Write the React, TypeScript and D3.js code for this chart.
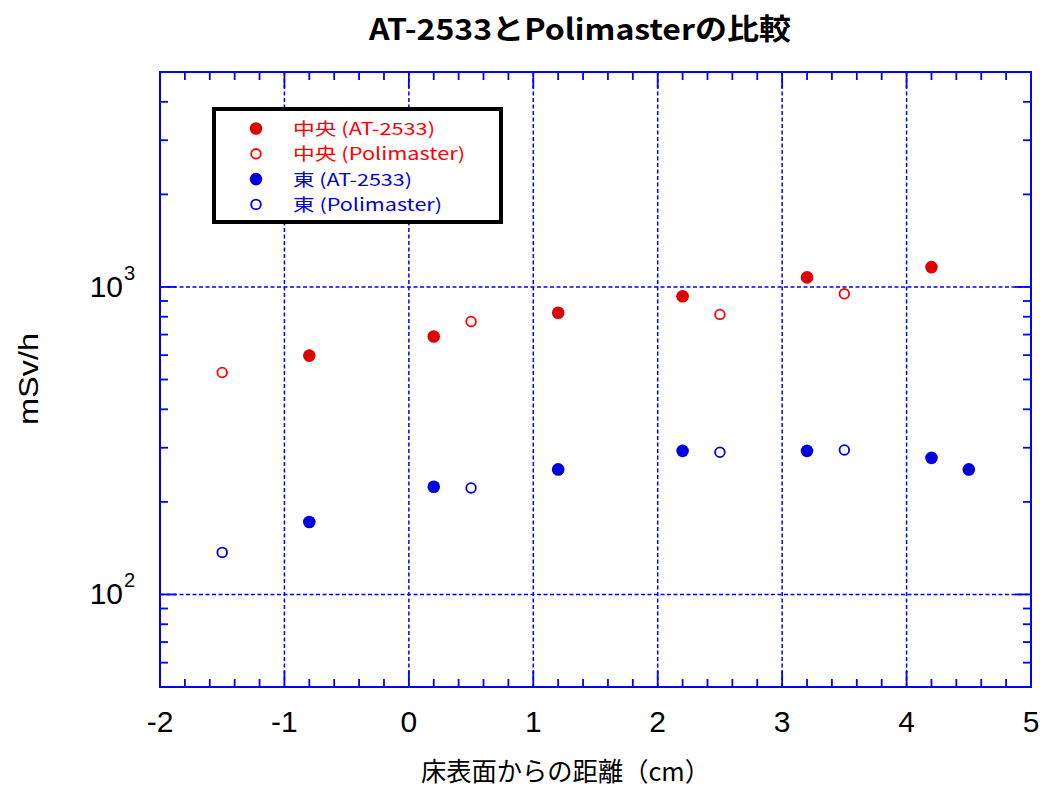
import React from "react";
import * as d3 from "d3";

const xCenterAT = [-0.8, 0.2, 1.2, 2.2, 3.2, 4.2];
const centerAT = [598, 690, 824, 933, 1074, 1160];
const xCenterPoli = [-1.5, 0.5, 2.5, 3.5];
const centerPoli = [527, 772, 814, 950];
const xEastAT = [-0.8, 0.2, 1.2, 2.2, 3.2, 4.2, 4.5];
const eastAT = [172, 224, 255, 293, 293, 278, 255];
const xEastPoli = [-1.5, 0.5, 2.5, 3.5];
const eastPoli = [137, 222, 290, 295];

const xTicks = [-2, -1, 0, 1, 2, 3, 4, 5];
const yMajor = [100, 1000];
const yMajorExp = ["2", "3"];
const legendLabels = ["中央 (AT-2533)", "中央 (Polimaster)", "東 (AT-2533)", "東 (Polimaster)"];
const legendWidths = [142, 172, 119, 149];

const title = "AT-2533とPolimasterの比較";
const xLabel = "床表面からの距離（cm）";
const yLabel = "mSv/h";

const L = 160, R = 1031, T = 72, B = 687;
const AX = "#0000ff";
const RED = "#e00000";
const RED2 = "#ff0000";
const BLUE = "#0000dd";
const JP = "'Noto Sans CJK JP', sans-serif";
const LAT = "'Liberation Sans', Arial, sans-serif";

export default function App() {
  const x = d3.scaleLinear().domain([-2, 5]).range([L, R]);
  const y = d3.scaleLog().domain([50, 5000]).range([B, T]);

  const xMinor: number[] = [];
  for (let i = -20; i <= 50; i += 2) {
    if (i % 10 !== 0) xMinor.push(i / 10);
  }
  const yMinor: number[] = [];
  [10, 100, 1000].forEach((d) => {
    for (let k = 2; k <= 9; k++) {
      const v = d * k;
      if (v >= 50 && v <= 5000) yMinor.push(v);
    }
  });

  const series = [
    { xs: xCenterAT, ys: centerAT, color: RED, text: RED2, filled: true },
    { xs: xCenterPoli, ys: centerPoli, color: RED2, text: RED2, filled: false },
    { xs: xEastAT, ys: eastAT, color: BLUE, text: BLUE, filled: true },
    { xs: xEastPoli, ys: eastPoli, color: BLUE, text: BLUE, filled: false },
  ];

  const minorLen = 8;
  const majorLen = 16;

  return (
    <svg width={1043} height={789} style={{ position: "absolute", left: 0, top: 0, background: "#fff" }}>
      <rect x={0} y={0} width={1043} height={789} fill="#fff" />
      {/* grid */}
      {xTicks.slice(1, -1).map((t) => (
        <line key={"gx" + t} x1={x(t)} x2={x(t)} y1={T} y2={B} stroke={AX} strokeWidth={1.5} strokeDasharray="4,2.5" />
      ))}
      {yMajor.map((t) => (
        <line key={"gy" + t} x1={L} x2={R} y1={y(t)} y2={y(t)} stroke={AX} strokeWidth={1.5} strokeDasharray="4,2.5" />
      ))}
      {/* ticks */}
      {xMinor.map((t) => (
        <g key={"mx" + t}>
          <line x1={x(t)} x2={x(t)} y1={B} y2={B - minorLen} stroke={AX} strokeWidth={1.8} />
          <line x1={x(t)} x2={x(t)} y1={T} y2={T + minorLen} stroke={AX} strokeWidth={1.8} />
        </g>
      ))}
      {xTicks.map((t) => (
        <g key={"Mx" + t}>
          <line x1={x(t)} x2={x(t)} y1={B} y2={B - majorLen} stroke={AX} strokeWidth={1.8} />
          <line x1={x(t)} x2={x(t)} y1={T} y2={T + majorLen} stroke={AX} strokeWidth={1.8} />
        </g>
      ))}
      {yMinor.map((t) => (
        <g key={"my" + t}>
          <line x1={L} x2={L + minorLen} y1={y(t)} y2={y(t)} stroke={AX} strokeWidth={1.8} />
          <line x1={R} x2={R - minorLen} y1={y(t)} y2={y(t)} stroke={AX} strokeWidth={1.8} />
        </g>
      ))}
      {yMajor.map((t) => (
        <g key={"My" + t}>
          <line x1={L} x2={L + majorLen} y1={y(t)} y2={y(t)} stroke={AX} strokeWidth={1.8} />
          <line x1={R} x2={R - majorLen} y1={y(t)} y2={y(t)} stroke={AX} strokeWidth={1.8} />
        </g>
      ))}
      {/* frame */}
      <rect x={L} y={T} width={R - L} height={B - T} fill="none" stroke={AX} strokeWidth={2} />

      {/* x tick labels */}
      {xTicks.map((t) => (
        <text key={"xl" + t} x={x(t)} y={732} textAnchor="middle" fontFamily={LAT} fontSize={30} fill="#000">
          {t < 0 ? "-" + Math.abs(t) : String(t)}
        </text>
      ))}
      {/* y tick labels */}
      {yMajor.map((t, i) => (
        <g key={"yl" + t}>
          <text x={123} y={y(t) + 10} textAnchor="end" fontFamily={LAT} fontSize={30} fill="#000">10</text>
          <text x={124} y={y(t) - 7} textAnchor="start" fontFamily={LAT} fontSize={20} fill="#000">{yMajorExp[i]}</text>
        </g>
      ))}

      {/* points */}
      {series.map((s, si) =>
        s.xs.map((xv, i) =>
          s.filled ? (
            <circle key={si + "-" + i} cx={x(xv)} cy={y(s.ys[i])} r={6.3} fill={s.color} />
          ) : (
            <circle key={si + "-" + i} cx={x(xv)} cy={y(s.ys[i])} r={4.8} fill="#fff" stroke={s.color} strokeWidth={1.8} />
          )
        )
      )}

      {/* legend */}
      <rect x={214} y={109} width={287} height={113} fill="#fff" stroke="#000" strokeWidth={4} />
      {series.map((s, i) => {
        const cy = 128.5 + i * 25.3;
        return (
          <g key={"lg" + i}>
            {s.filled ? (
              <circle cx={256} cy={cy} r={6.3} fill={s.color} />
            ) : (
              <circle cx={256} cy={cy} r={4.8} fill="#fff" stroke={s.color} strokeWidth={1.8} />
            )}
            <text x={293} y={cy + 6.5} fontFamily={JP} fontSize={17} fill={s.text}
              textLength={legendWidths[i]} lengthAdjust="spacingAndGlyphs">
              {legendLabels[i]}
            </text>
          </g>
        );
      })}

      {/* title */}
      <text x={369} y={40} fontFamily={JP} fontSize={29} fontWeight="bold" fill="#000"
        textLength={422} lengthAdjust="spacingAndGlyphs">{title}</text>
      {/* x label */}
      <text x={421} y={781} fontFamily={JP} fontSize={26} fill="#000"
        textLength={289} lengthAdjust="spacingAndGlyphs">{xLabel}</text>
      {/* y label */}
      <text transform="translate(38,379) rotate(-90)" textAnchor="middle" fontFamily={LAT} fontSize={27} fill="#000"
        textLength={92} lengthAdjust="spacingAndGlyphs">{yLabel}</text>
    </svg>
  );
}
